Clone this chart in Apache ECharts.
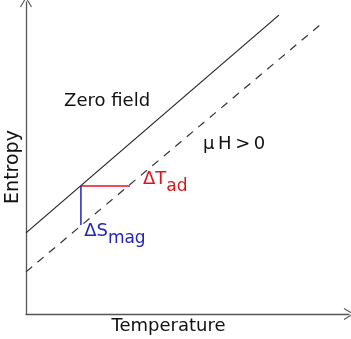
<!DOCTYPE html>
<html>
<head>
<meta charset="utf-8">
<script src="https://cdn.jsdelivr.net/npm/echarts@6/dist/echarts.min.js"></script>
<style>
html, body { margin: 0; padding: 0; background: #fff; }
#chart { width: 351px; height: 339px; }
</style>
</head>
<body>
<div id="chart"></div>
<script>
// schematic entropy curves, axis units 0..100
var zeroField = [[0, 26], [78.3, 95.8]];
var withField = [[0, 13.5], [91.3, 92.9]];
var dTad = [[17, 41], [32.2, 41]];
var dSmag = [[17, 41], [17, 28.5]];

var labelNames = ['Zero field', 'mu', 'dT', 'dS'];
var labelPos = [[11.8, 68.1], [54.8, 54.5], [36.2, 42.0], [18.0, 25.5]];

var chart = echarts.init(document.getElementById('chart'));
var fontFam = 'DejaVu Sans';
var chevron = 'path://M0,0 L6,10 L5,10.6 L0,2 L-5,10.6 L-6,10 Z';

var texts = {
  'Zero field': { formatter: 'Zero field', color: '#111', fontSize: 18 },
  'mu': { formatter: 'μ\u2009H\u2009>\u20090', color: '#111', fontSize: 18 },
  'dT': { formatter: '{m|ΔT}{s|ad}', color: '#e0141e' },
  'dS': { formatter: '{m|ΔS}{s|mag}', color: '#2424bf' }
};

var labelData = labelNames.map(function (n, i) {
  var t = texts[n];
  return {
    value: labelPos[i],
    label: {
      show: true,
      position: 'inside',
      align: 'left',
      verticalAlign: 'middle',
      opacity: 1,
      formatter: t.formatter,
      color: t.color,
      fontFamily: fontFam,
      fontSize: t.fontSize || 18,
      rich: {
        m: { color: t.color, fontSize: 18, fontFamily: fontFam, verticalAlign: 'bottom', padding: [0, 0, 7, 0] },
        s: { color: t.color, fontSize: 17, fontFamily: fontFam, verticalAlign: 'bottom' }
      }
    }
  };
});

var option = {
  animation: false,
  grid: { left: 26, right: 2, top: 2, bottom: 25, containLabel: false, outerBoundsMode: 'none' },
  xAxis: {
    type: 'value', min: 0, max: 100,
    name: 'Temperature', nameLocation: 'middle', nameGap: 3,
    nameTextStyle: { fontFamily: fontFam, fontSize: 18, color: '#111', padding: [0, 38, 0, 0] },
    axisLine: { lineStyle: { color: '#555', width: 1.3 }, symbol: ['none', chevron], symbolSize: [12, 11], symbolOffset: [0, 0] },
    axisTick: { show: false }, axisLabel: { show: false }, splitLine: { show: false }
  },
  yAxis: {
    type: 'value', min: 0, max: 100,
    name: 'Entropy', nameLocation: 'middle', nameGap: 3, nameRotate: 90,
    nameTextStyle: { fontFamily: fontFam, fontSize: 19, color: '#111', padding: [0, 18, 0, 0] },
    axisLine: { lineStyle: { color: '#555', width: 1.3 }, symbol: ['none', chevron], symbolSize: [12, 11], symbolOffset: [0, 0] },
    axisTick: { show: false }, axisLabel: { show: false }, splitLine: { show: false }
  },
  series: [
    { type: 'line', data: zeroField, showSymbol: false, lineStyle: { color: '#222', width: 1.2 } },
    { type: 'line', data: withField, showSymbol: false, lineStyle: { color: '#333', width: 1.2, type: [8, 7] } },
    { type: 'line', data: dTad, showSymbol: false, lineStyle: { color: '#e0141e', width: 1.5 } },
    { type: 'line', data: dSmag, showSymbol: false, lineStyle: { color: '#2424bf', width: 1.5 } },
    { type: 'scatter', data: labelData, symbolSize: 0, silent: true, itemStyle: { opacity: 1 } }
  ]
};
chart.setOption(option);
</script>
</body>
</html>
